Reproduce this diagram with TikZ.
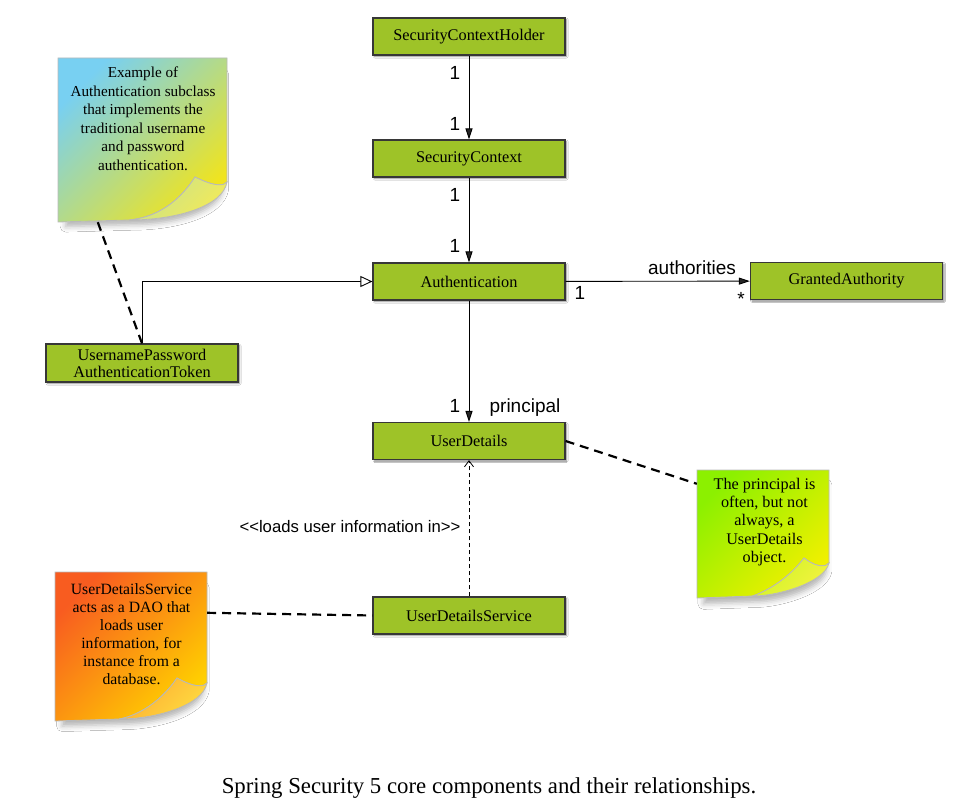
\documentclass[tikz,border=0pt]{standalone}
\usepackage{fontspec}
\setmainfont{Liberation Serif}
\newfontfamily\labelfont{Liberation Sans}
\usetikzlibrary{arrows.meta,shadows.blur,calc}
\definecolor{boxgreen}{RGB}{158,195,40}
\definecolor{boxborder}{RGB}{55,55,55}
\definecolor{notegray}{RGB}{185,185,185}
\definecolor{noteAa}{RGB}{120,208,242}
\definecolor{noteAb}{RGB}{240,228,30}
\definecolor{noteBa}{RGB}{140,240,0}
\definecolor{noteBb}{RGB}{242,240,0}
\definecolor{noteCa}{RGB}{248,92,32}
\definecolor{noteCb}{RGB}{255,208,0}
% L, T, R, B, colour A, colour B, curl height, tip offset
\newcommand\stickynote[8]{%
 \fill[white, blur shadow={shadow xshift=2pt,shadow yshift=-11pt,shadow blur radius=6pt,shadow opacity=30,shadow scale=0.93}]
   (#1,#2) -- (#3,#2) -- (#3,#4-#7) .. controls (#3-4,#4-16) and (#3-50,#4-2) .. (#1+0.42*#3-0.42*#1,#4-2) -- (#1,#4) -- cycle;
 \shade[top color=#5, bottom color=#6, shading angle=45, draw=notegray, line width=0.8pt]
   (#1,#2) -- (#3,#2) -- (#3,#4-#7) .. controls (#3-3,#4-#7+4) and (#3-12,#4-#7+5) .. (#3-#8,#4-#7-5)
   .. controls (#3-#8-20,#4-14) and (#3-#8-45,#4-4) .. (#1+0.42*#3-0.42*#1,#4-2) -- (#1,#4) -- cycle;
 \shade[top color=#5!45!#6!85!white, bottom color=#6!75!white, shading angle=45, draw=notegray, line width=0.8pt]
   (#3,#4-#7) .. controls (#3-4,#4-16) and (#3-50,#4-2) .. (#1+0.42*#3-0.42*#1,#4-2)
   .. controls (#3-#8-45,#4-4) and (#3-#8-20,#4-14) .. (#3-#8,#4-#7-5)
   .. controls (#3-12,#4-#7+5) and (#3-3,#4-#7+4) .. (#3,#4-#7) -- cycle;
}
\begin{document}
\begin{tikzpicture}[x=1pt,y=-1pt,
  cls/.style={draw=boxborder, line width=1.2pt, fill=boxgreen, minimum width=192pt, minimum height=37pt,
     inner sep=2pt, font=\fontsize{16.3}{17}\selectfont, align=center,
     blur shadow={shadow xshift=1.5pt, shadow yshift=-1.5pt, shadow blur radius=1.5pt, shadow opacity=45}},
  lbl/.style={font=\labelfont\fontsize{19}{21}\selectfont, inner sep=0pt},
  assoc/.style={draw, line width=0.9pt, -{Triangle[length=11pt,width=7pt]}},
  gen/.style={draw, line width=0.9pt, -{Triangle[open, length=12pt, width=11pt, fill=white]}},
  dep/.style={draw, line width=0.8pt, dash pattern=on 4pt off 3pt, -{Straight Barb[length=6pt,width=9pt]}},
  notelink/.style={draw, line width=2.2pt, dash pattern=on 9pt off 6pt},
  notetxt/.style={align=center, inner sep=0pt},
  notearea/.style={draw=none, inner sep=0pt}]
\useasboundingbox (0,0) rectangle (977,808);
\fill[white] (0,0) rectangle (977,808);

% sticky notes
\stickynote{58}{58}{227}{222}{noteAa}{noteAb}{40}{32}
\stickynote{697}{470}{829}{598}{noteBa}{noteBb}{35}{25}
\stickynote{55}{572}{207}{721}{noteCa}{noteCb}{38}{30}
\node[notearea, minimum width=169pt, minimum height=164pt] (n1) at (142.5,140) {};
\node[notearea, minimum width=132pt, minimum height=128pt] (n2) at (763,534) {};
\node[notearea, minimum width=152pt, minimum height=149pt] (n3) at (131,646.5) {};
\node[notetxt, font=\fontsize{15.2}{18.5}\selectfont] (t1) at (143,119) {Example of\\Authentication subclass\\that implements the\\traditional username\\and password\\authentication.};
\node[notetxt, font=\fontsize{16.2}{18.3}\selectfont] (t2) at (764.5,522) {The principal is\\often, but not\\always, a\\UserDetails\\object.};
\node[notetxt, font=\fontsize{15.7}{18}\selectfont] (t3) at (131.5,634) {UserDetailsService\\acts as a DAO that\\loads user\\information, for\\instance from a\\database.};

% classes
\node[cls] (sch) at (469,36.5) {SecurityContextHolder};
\node[cls] (sc) at (469,158.5) {SecurityContext};
\node[cls] (auth) at (469,281.5) {Authentication};
\node[cls] (ga) at (846.5,281) {GrantedAuthority};
\node[cls, minimum height=38pt] (upat) at (142,363) {UsernamePassword\\AuthenticationToken};
\node[cls] (ud) at (469,441) {UserDetails};
\node[cls] (uds) at (469,615.5) {UserDetailsService};

% connectors
\draw[assoc] (sch) -- (sc);
\draw[assoc] (sc) -- (auth);
\draw[assoc] (auth) -- (ud);
\draw[assoc] (auth) -- (ga);
\draw[gen] (upat.north) |- (auth.west);
\draw[dep] (uds) -- (ud);
\draw[notelink] ($(n1.south west)+(40,0)$) -- (upat.north);
\draw[notelink] (ud.east) -- ($(n2.north west)+(0,14)$);
\draw[notelink] ($(n3.north east)+(0,41)$) -- (uds.west);

% labels
\node[lbl] (m1) at (455,73) {1};
\node[lbl] (m2) at (455,124) {1};
\node[lbl] (m3) at (455,195) {1};
\node[lbl] (m4) at (455,246) {1};
\node[lbl, anchor=base] (la) at (692,274) {authorities};
\node[lbl] (m5) at (580,293) {1};
\node[lbl] (m6) at (741,299) {*};
\node[lbl] (m7) at (455,406) {1};
\node[lbl, anchor=base] (lp) at (525,412) {principal};
\node[lbl, font=\labelfont\fontsize{16.7}{18}\selectfont] (ll) at (350,527) {<<loads user information in>>};

% caption
\node[anchor=base, font=\fontsize{22.8}{26}\selectfont] (cap) at (489,793) {Spring Security 5 core components and their relationships.};
\end{tikzpicture}
\end{document}
